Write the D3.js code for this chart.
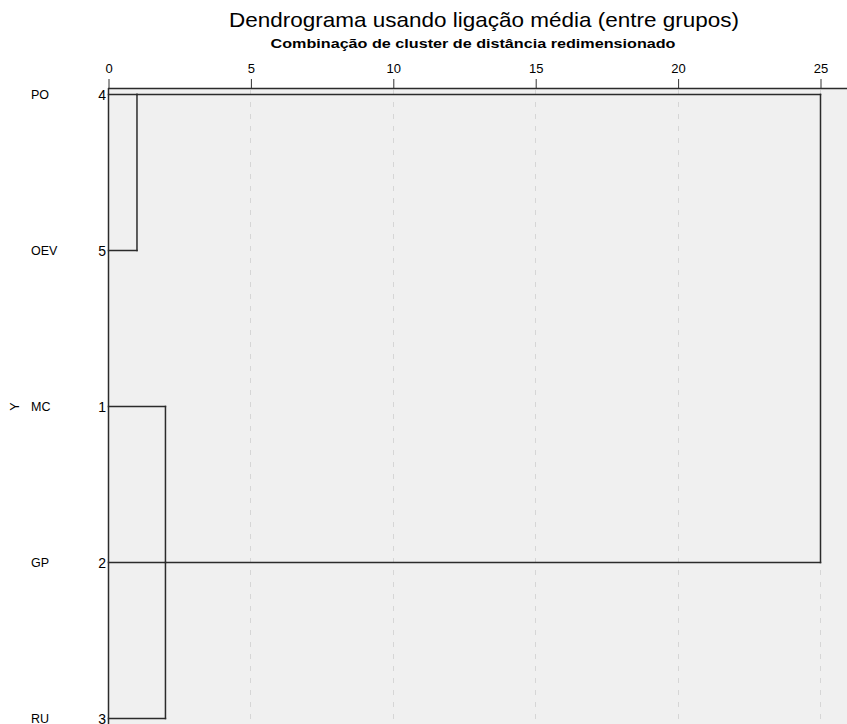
<!DOCTYPE html>
<html>
<head>
<meta charset="utf-8">
<script src="https://cdn.jsdelivr.net/npm/d3@7"></script>
<style>
  html, body { margin: 0; padding: 0; background: #ffffff; }
  svg { display: block; font-family: "Liberation Sans", Arial, sans-serif; }
</style>
</head>
<body>
<svg id="chart" width="847" height="724"></svg>
<script>
// Leaves in dendrogram order, with their case numbers
const caseLabels = ["PO", "OEV", "MC", "GP", "RU"];
const caseNumbers = [4, 5, 1, 2, 3];

// Axis ticks (rescaled distance, 0–25)
const tickValues = [0, 5, 10, 15, 20, 25];

// Clusters: members, rescaled joining distance, row where the joined branch leaves
const clusterNames = ["A", "B"];
const clusterMembers = [["PO", "OEV"], ["MC", "GP", "RU"]];
const clusterDistances = [1.0, 2.0];
const clusterExitRows = ["PO", "GP"];

// Final join of the two clusters
const finalJoin = { left: "A", right: "B", distance: 25 };

const title = "Dendrograma usando ligação média (entre grupos)";
const subtitle = "Combinação de cluster de distância redimensionado";
const yTitle = "Y";

const svg = d3.select("#chart");
const W = 847, H = 724;
const plot = { left: 108, top: 88, right: W, bottom: H };

const x = d3.scaleLinear().domain([0, 25]).range([108, 820]);
const y = d3.scalePoint().domain(caseLabels).range([94.5, 718.5]);

const lineColor = "#2b2b2b";

// plot background
svg.append("rect")
  .attr("x", plot.left).attr("y", plot.top)
  .attr("width", plot.right - plot.left).attr("height", plot.bottom - plot.top)
  .attr("fill", "#f0f0f0");

// dashed vertical gridlines
svg.append("g").selectAll("line")
  .data(tickValues.filter(d => d > 0))
  .join("line")
  .attr("x1", d => Math.round(x(d)) + 0.5).attr("x2", d => Math.round(x(d)) + 0.5)
  .attr("y1", plot.top + 2).attr("y2", plot.bottom)
  .attr("stroke", "#d6d6d6")
  .attr("stroke-width", 1)
  .attr("stroke-dasharray", "5,7");

// titles
svg.append("text")
  .attr("x", 484).attr("y", 27)
  .attr("text-anchor", "middle")
  .attr("font-size", 21)
  .attr("textLength", 510)
  .attr("lengthAdjust", "spacingAndGlyphs")
  .attr("fill", "#000")
  .text(title);

svg.append("text")
  .attr("x", 473).attr("y", 48)
  .attr("text-anchor", "middle")
  .attr("font-size", 13)
  .attr("font-weight", "bold")
  .attr("textLength", 405)
  .attr("lengthAdjust", "spacingAndGlyphs")
  .attr("fill", "#000")
  .text(subtitle);

// top axis
const xAxis = d3.axisTop(x).tickValues(tickValues).tickSize(9).tickSizeOuter(0).tickFormat(d3.format("d"));
const gx = svg.append("g")
  .attr("transform", `translate(0.5,${plot.top})`)
  .call(xAxis);
gx.select(".domain").remove();
gx.selectAll(".tick line").attr("stroke", "#333").attr("stroke-width", 1);
gx.selectAll(".tick text")
  .attr("font-family", "'Liberation Sans', Arial, sans-serif")
  .attr("font-size", 13).attr("fill", "#000").attr("dy", "-0.2em");

svg.append("line")
  .attr("x1", plot.left).attr("x2", W)
  .attr("y1", plot.top + 0.5).attr("y2", plot.top + 0.5)
  .attr("stroke", lineColor).attr("stroke-width", 1.5);

// left axis line
svg.append("line")
  .attr("x1", plot.left + 0.5).attr("x2", plot.left + 0.5)
  .attr("y1", plot.top).attr("y2", H)
  .attr("stroke", lineColor).attr("stroke-width", 1.5);

// case labels and numbers
const leftG = svg.append("g").attr("fill", "#000");
leftG.selectAll("text.lab")
  .data(caseLabels)
  .join("text")
  .attr("class", "lab")
  .attr("x", 31).attr("y", d => y(d))
  .attr("dy", "0.38em")
  .attr("font-size", 12.5)
  .text(d => d);
leftG.selectAll("text.num")
  .data(caseLabels)
  .join("text")
  .attr("class", "num")
  .attr("x", 106).attr("y", d => y(d))
  .attr("dy", "0.38em")
  .attr("font-size", 14)
  .attr("text-anchor", "end")
  .text((d, i) => caseNumbers[i]);

svg.append("text")
  .attr("transform", `translate(15,${y("MC")}) rotate(-90)`)
  .attr("text-anchor", "middle")
  .attr("dy", "0.35em")
  .attr("font-size", 12.5)
  .attr("fill", "#000")
  .text(yTitle);

// dendrogram links
const segs = [];
clusterNames.forEach((name, i) => {
  const members = clusterMembers[i];
  const xd = x(clusterDistances[i]);
  members.forEach(m => segs.push([x(0), y(m), xd, y(m)]));
  segs.push([xd, y(members[0]), xd, y(members[members.length - 1])]);
});
const exitOf = n => clusterNames.indexOf(n);
const li = exitOf(finalJoin.left), ri = exitOf(finalJoin.right);
const xf = x(finalJoin.distance);
segs.push([x(clusterDistances[li]), y(clusterExitRows[li]), xf, y(clusterExitRows[li])]);
segs.push([x(clusterDistances[ri]), y(clusterExitRows[ri]), xf, y(clusterExitRows[ri])]);
segs.push([xf, y(clusterExitRows[li]), xf, y(clusterExitRows[ri])]);

svg.append("g").selectAll("line")
  .data(segs)
  .join("line")
  .attr("x1", d => d[0] + 0.5).attr("y1", d => d[1])
  .attr("x2", d => d[2] + 0.5).attr("y2", d => d[3])
  .attr("stroke", lineColor)
  .attr("stroke-width", 1.5)
  .attr("stroke-linecap", "square");
</script>
</body>
</html>
